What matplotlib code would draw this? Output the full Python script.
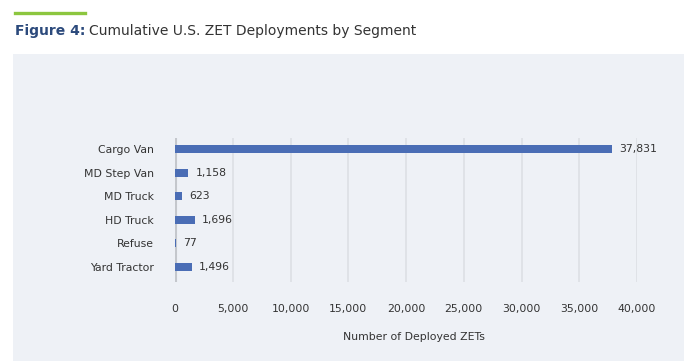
import matplotlib
matplotlib.use("Agg")
import matplotlib.pyplot as plt
from matplotlib.patches import Rectangle
from matplotlib.lines import Line2D

categories = ["Cargo Van", "MD Step Van", "MD Truck", "HD Truck", "Refuse", "Yard Tractor"]
values = [37831, 1158, 623, 1696, 77, 1496]
xticks = [0, 5000, 10000, 15000, 20000, 25000, 30000, 35000, 40000]

plt.rcParams['font.family'] = ['DejaVu Sans']
W, H = 684, 361
fig = plt.figure(figsize=(W/100, H/100), dpi=100)
fig.patch.set_facecolor("white")

panel_bg = "#eef1f6"
fig.patches.append(Rectangle((13/W, 0), 1 - 13/W, 1 - 54/H, transform=fig.transFigure,
                             facecolor=panel_bg, edgecolor="none", zorder=-5))
fig.lines.append(Line2D([15/W, 85/W], [1 - 13/H, 1 - 13/H], transform=fig.transFigure,
                        color="#8cc63f", linewidth=2.4))

ax = fig.add_axes([175/W, 1 - 282/H, (637 - 175)/W, (282 - 138)/H])
ax.set_zorder(2)
ax.patch.set_alpha(0)

ypos = list(range(len(categories)))
ax.barh(ypos, values, height=0.34, color="#4a6db5", zorder=3)
ax.set_xlim(0, 40000)
ax.set_ylim(5.636, -0.466)
ax.set_yticks(ypos)
ax.set_yticklabels(categories, fontsize=7.8, color="#333333")
ax.set_xticks(xticks)
ax.set_xticklabels([f"{t:,}" for t in xticks], fontsize=7.8, color="#333333")
ax.tick_params(axis="y", length=0, pad=15)
ax.tick_params(axis="x", length=0, pad=16)
for s in ax.spines.values():
    s.set_visible(False)
ax.grid(axis="x", color="#dcdfe5", linewidth=1.2, zorder=1)
ax.set_axisbelow(True)
ax.axvline(0, color="#c4c7cc", linewidth=2.2, zorder=2)

for y, v in zip(ypos, values):
    ax.annotate(f"{v:,}", (v, y), xytext=(5, 0), textcoords="offset points",
                va="center", ha="left", fontsize=7.8, color="#333333")

fig.text(414/W, 1 - 337/H, "Number of Deployed ZETs", ha="center", va="center",
         fontsize=7.8, color="#333333")

t1 = fig.text(15/W, 1 - 31/H, "Figure 4:", ha="left", va="center", fontsize=10,
              fontweight="bold", color="#2c4a7c")
fig.canvas.draw()
bb = t1.get_window_extent()
fig.text((bb.x1 + 4)/W, 1 - 31/H, "Cumulative U.S. ZET Deployments by Segment", ha="left",
         va="center", fontsize=10, color="#333333")

fig.savefig("out.png", dpi=100, facecolor="white")
